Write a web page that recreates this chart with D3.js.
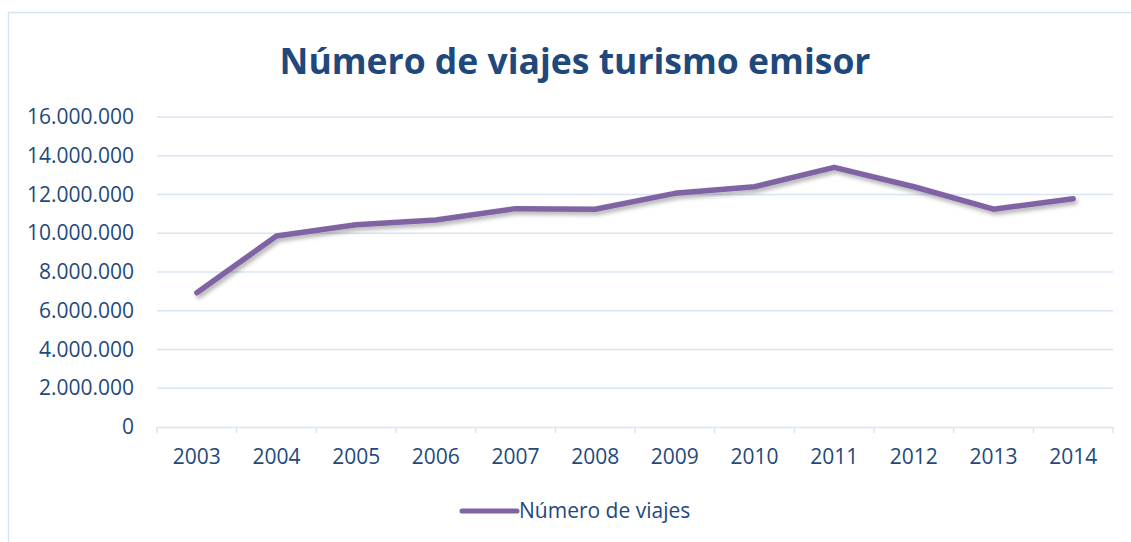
<!DOCTYPE html>
<html>
<head>
<meta charset="utf-8">
<script src="https://cdn.jsdelivr.net/npm/d3@7"></script>
<style>
  body { margin: 0; background: #fff; }
  text { font-family: "Open Sans", sans-serif; fill: #1F497D; }
</style>
</head>
<body>
<svg id="chart" width="1131" height="542"></svg>
<script>
// data
var years = ['2003','2004','2005','2006','2007','2008','2009','2010','2011','2012','2013','2014'];
var viajes = [6930000, 9860000, 10440000, 10680000, 11270000, 11240000, 12060000, 12400000, 13400000, 12400000, 11240000, 11780000];
var yTicks = [0, 2000000, 4000000, 6000000, 8000000, 10000000, 12000000, 14000000, 16000000];
var title = 'Número de viajes turismo emisor';
var seriesName = 'Número de viajes';

var margin = {top: 117, right: 18, bottom: 115, left: 157},
    width = 1131 - margin.left - margin.right,
    height = 542 - margin.top - margin.bottom;

var svgRoot = d3.select('#chart');

// outer chart border
svgRoot.append('rect')
  .attr('x', 8.5).attr('y', 12.5)
  .attr('width', 1140).attr('height', 560)
  .attr('fill', 'none')
  .attr('stroke', '#D5E3F3')
  .attr('stroke-width', 1.5);

// drop shadow for the line
var defs = svgRoot.append('defs');
var f = defs.append('filter').attr('id', 'shadow')
  .attr('x', '-5%').attr('y', '-20%').attr('width', '110%').attr('height', '140%');
f.append('feDropShadow')
  .attr('dx', 2).attr('dy', 3).attr('stdDeviation', 2)
  .attr('flood-color', '#000').attr('flood-opacity', 0.3);

svgRoot.append('text')
  .attr('x', 575).attr('y', 74)
  .attr('text-anchor', 'middle')
  .attr('font-size', 35.5)
  .attr('font-weight', 'bold')
  .text(title);

var svg = svgRoot.append('g')
  .attr('transform', 'translate(' + margin.left + ',' + margin.top + ')');

var x = d3.scaleBand().domain(years).range([0, width]);
var y = d3.scaleLinear().domain([0, 16000000]).range([height, 0]);

var fmt = function(d) { return d3.format(',')(d).replace(/,/g, '.'); };

// gridlines
svg.append('g')
  .selectAll('line')
  .data(yTicks.slice(1))
  .join('line')
  .attr('x1', 0).attr('x2', width)
  .attr('y1', function(d) { return y(d); })
  .attr('y2', function(d) { return y(d); })
  .attr('stroke', '#D9E5F4')
  .attr('stroke-width', 1.5);

// y axis labels
var yAxis = svg.append('g')
  .call(d3.axisLeft(y).tickValues(yTicks).tickFormat(fmt).tickSize(0).tickPadding(23));
yAxis.select('.domain').remove();
yAxis.selectAll('text').attr('font-size', 21).style('fill', '#1F497D');

// x axis
var xAxis = svg.append('g')
  .attr('transform', 'translate(0,' + height + ')')
  .call(d3.axisBottom(x).tickSize(0).tickPadding(22));
xAxis.select('.domain').attr('stroke', '#D9E5F4').attr('stroke-width', 1.5);
xAxis.selectAll('text').attr('font-size', 21).style('fill', '#1F497D');

// category boundary ticks
svg.append('g')
  .selectAll('line')
  .data(d3.range(years.length + 1))
  .join('line')
  .attr('x1', function(i) { return i * x.bandwidth(); })
  .attr('x2', function(i) { return i * x.bandwidth(); })
  .attr('y1', height).attr('y2', height + 6)
  .attr('stroke', '#D9E5F4')
  .attr('stroke-width', 1.5);

var line = d3.line()
  .x(function(d, i) { return x(years[i]) + x.bandwidth() / 2; })
  .y(function(d) { return y(d); });

svg.append('path')
  .datum(viajes)
  .attr('d', line)
  .attr('fill', 'none')
  .attr('stroke', '#8064A2')
  .attr('stroke-width', 5.5)
  .attr('stroke-linecap', 'round')
  .attr('stroke-linejoin', 'round')
  .attr('filter', 'url(#shadow)');

// legend
var lg = svgRoot.append('g').attr('transform', 'translate(462,511)');
lg.append('line')
  .attr('x1', 0).attr('x2', 55)
  .attr('stroke', '#8064A2')
  .attr('stroke-width', 5)
  .attr('stroke-linecap', 'round');
lg.append('text')
  .attr('x', 57).attr('y', 7)
  .attr('font-size', 21)
  .text(seriesName);
</script>
</body>
</html>
